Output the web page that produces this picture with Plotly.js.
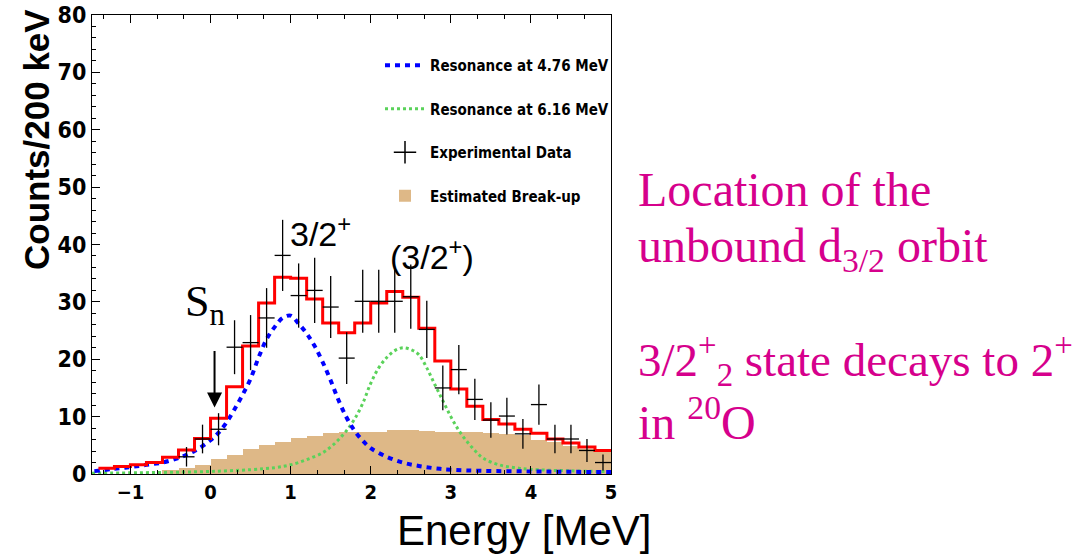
<!DOCTYPE html>
<html>
<head>
<meta charset="utf-8">
<script src="https://cdn.plot.ly/plotly-3.0.1.min.js"></script>
<style>
html,body{margin:0;padding:0;background:#fff;}
#chart{width:1077px;height:556px;}
</style>
</head>
<body>
<div id="chart"></div>
<script>
// ---- Data ----
// Fit sum histogram (red), 200 keV bins: left edges and contents
const fitBinStart = [-1.4,-1.2,-1.0,-0.8,-0.6,-0.4,-0.2,0.0,0.2,0.4,0.6,0.8,1.0,1.2,1.4,1.6,
                     1.8,2.0,2.2,2.4,2.6,2.8,3.0,3.2,3.4,3.6,3.8,4.0,4.2,4.4,4.6,4.8];
const fitBinEnd = 5.0;
const fitCounts = [1.0,1.3,1.6,2.0,2.9,4.2,6.2,9.7,15.2,22.3,29.8,34.3,34.1,30.5,26.3,24.6,
                   26.3,29.8,31.8,30.8,25.4,19.7,14.8,11.8,9.5,8.7,7.8,7.1,6.1,5.4,4.7,4.1];

// Estimated break-up (tan filled histogram): bin centres and contents
const breakupE = [-0.5,-0.3,-0.1,0.1,0.3,0.5,0.7,0.9,1.1,1.3,1.5,1.7,1.9,2.1,2.3,2.5,2.7,2.9,
                  3.1,3.3,3.5,3.7,3.9,4.1,4.3,4.5,4.7,4.9];
const breakupCounts = [0.7,1.0,1.6,2.6,3.3,4.3,5.1,5.6,6.3,6.7,7.1,7.3,7.4,7.4,7.6,7.6,7.5,7.4,
                       7.4,7.4,7.2,6.9,6.8,6.0,5.5,4.9,4.3,3.8];

// Resonance at 4.76 MeV (blue dashed)
const res1E = [-1.45,-1.2,-1.0,-0.8,-0.6,-0.4,-0.2,0.0,0.1,0.2,0.3,0.4,0.5,0.6,0.7,0.8,0.9,1.0,
               1.1,1.2,1.3,1.4,1.5,1.6,1.7,1.8,1.9,2.0,2.2,2.4,2.6,2.8,3.0,3.4,4.0,4.5,5.0];
const res1Counts = [0.5,0.9,1.2,1.6,2.0,2.8,4.0,5.9,7.2,9.0,11.3,13.8,16.6,20.3,23.5,25.6,27.2,27.6,
                    26.2,24.5,22.3,19.5,16.3,12.8,9.8,7.5,5.8,4.5,3.0,2.0,1.4,1.0,0.75,0.55,0.45,0.38,0.33];

// Resonance at 6.16 MeV (green dotted)
const res2E = [-1.48,-1.0,-0.5,0.0,0.5,0.8,1.0,1.2,1.4,1.5,1.6,1.7,1.8,1.9,2.0,2.1,2.2,2.3,2.4,
               2.5,2.6,2.7,2.8,2.9,3.0,3.1,3.2,3.3,3.4,3.6,3.8,4.0,4.5,5.0];
const res2Counts = [0.15,0.2,0.3,0.45,0.75,1.1,1.6,2.5,3.7,4.7,6.0,7.6,9.6,12.3,15.8,18.5,20.3,21.5,22.0,
                    21.7,20.8,18.5,15.6,12.8,10.0,7.6,5.7,4.1,2.8,1.6,1.1,0.8,0.55,0.4];

// Experimental data (crosses)
const dataE = [-0.3,-0.1,0.1,0.3,0.5,0.7,0.9,1.1,1.3,1.5,1.7,1.9,2.1,2.3,2.5,2.7,2.9,3.1,3.3,3.5,
               3.7,3.9,4.1,4.3,4.5,4.7,4.9];
const dataCounts = [3.0,6.1,7.8,22.1,22.9,27.2,38.1,31.1,32.0,29.1,20.2,30.1,30.1,30.1,30.9,25.2,15.0,
                    18.2,13.0,9.4,10.1,7.0,12.1,6.1,6.1,4.1,2.0];
const dataErr = [1.7,2.5,2.8,4.7,4.8,5.2,6.2,5.6,5.7,5.4,4.5,5.5,5.5,5.5,5.6,5.0,3.9,4.3,3.6,3.1,
                 3.2,2.6,3.5,2.5,2.5,2.0,1.4];
const binHalfWidth = 0.1;

const xTickVals = [-1,0,1,2,3,4,5];
const yTickVals = [0,10,20,30,40,50,60,70,80];

// ---- Traces ----
const narrow = "Liberation Sans Narrow, DejaVu Sans Condensed, Arial Narrow, sans-serif";
const magenta = "#d6008c";

const traces = [
  {
    type: "bar", name: "Estimated Break-up",
    x: breakupE, y: breakupCounts, width: 0.2,
    marker: {color: "#deb887", line: {width: 0}},
    legendgroup: "d", legendrank: 4, hoverinfo: "skip"
  },
  {
    type: "scatter", mode: "lines", name: "Resonance at 6.16 MeV",
    x: res2E, y: res2Counts, line: {color: "#5ad25a", width: 3, dash: "dot", shape: "spline"},
    legendgroup: "b", legendrank: 2
  },
  {
    type: "scatter", mode: "lines", name: "Resonance at 4.76 MeV",
    x: res1E, y: res1Counts, line: {color: "#0000ff", width: 4, dash: "5px,5px", shape: "spline"},
    legendgroup: "a", legendrank: 1
  },
  {
    type: "scatter", mode: "lines", name: "Fit",
    x: fitBinStart.concat([fitBinEnd]), y: fitCounts.concat([fitCounts[fitCounts.length-1]]),
    line: {color: "#ff0000", width: 3, shape: "hv"}, showlegend: false
  },
  {
    type: "scatter", mode: "markers", name: "Experimental Data",
    x: dataE, y: dataCounts,
    marker: {size: 1, color: "black"},
    error_y: {type: "data", array: dataErr, visible: true, color: "black", thickness: 1.3, width: 0},
    error_x: {type: "constant", value: binHalfWidth, visible: true, color: "black", thickness: 1.3, width: 0},
    showlegend: false
  },
  {
    type: "scatter", mode: "markers", name: "Experimental Data",
    x: [null], y: [null],
    marker: {symbol: "cross-thin-open", size: 16, color: "black", line: {color: "black", width: 1.5}},
    legendgroup: "c", legendrank: 3
  }
];

// pixel helpers for paper coordinates (plot area: x 92..611, y 15..474)
const PL = 92, PR = 611, PT = 15, PB = 474;
const px = v => (v - PL) / (PR - PL);
const py = v => (PB - v) / (PB - PT);

const serif = "Liberation Serif, Times New Roman, serif";
function rightText(text, yPix, size) {
  return {xref: "paper", yref: "paper", x: px(636), y: py(yPix), xanchor: "left", yanchor: "middle",
          text: text, showarrow: false, font: {family: serif, size: size, color: magenta}};
}

const layout = {
  width: 1077, height: 556,
  margin: {l: PL, r: 1077 - PR, t: PT, b: 556 - PB, pad: 0},
  paper_bgcolor: "white", plot_bgcolor: "white",
  showlegend: true,
  bargap: 0,
  xaxis: {
    range: [-1.48, 5.0], showgrid: false, zeroline: false,
    tickvals: xTickVals, ticks: "inside", ticklen: 8, tickwidth: 1, tickcolor: "black",
    minor: {dtick: 1/3, tick0: 0, ticks: "inside", ticklen: 4, tickcolor: "black", showgrid: false},
    showline: true, linecolor: "black", linewidth: 1, mirror: "ticks",
    tickfont: {family: narrow, size: 20, color: "black", weight: "bold"}
  },
  yaxis: {
    range: [0, 80], showgrid: false, zeroline: false,
    tickvals: yTickVals, ticks: "inside", ticklen: 8, tickwidth: 1, tickcolor: "black",
    minor: {dtick: 2, ticks: "inside", ticklen: 4, tickcolor: "black", showgrid: false},
    showline: true, linecolor: "black", linewidth: 1, mirror: true,
    tickfont: {family: narrow, size: 23, color: "black", weight: "bold"}
  },
  legend: {
    x: px(380), y: py(49), xanchor: "left", yanchor: "top",
    bgcolor: "rgba(0,0,0,0)", borderwidth: 0,
    font: {family: narrow, size: 15, color: "black", weight: "bold"},
    traceorder: "grouped", tracegroupgap: 21, itemwidth: 40
  },
  annotations: [
    // axis titles
    {xref: "paper", yref: "paper", x: px(36), y: py(140), xanchor: "center", yanchor: "middle",
     text: "Counts/200 keV", textangle: -90, showarrow: false,
     font: {family: "Liberation Sans, Arial, sans-serif", size: 35, color: "black", weight: "bold"}},
    {xref: "paper", yref: "paper", x: px(524), y: py(530), xanchor: "center", yanchor: "middle",
     text: "Energy [MeV]", showarrow: false,
     font: {family: "Liberation Sans, Arial, sans-serif", size: 42, color: "black"}},
    // peak labels
    {xref: "x", yref: "y", x: 1.375, y: 42.3, xanchor: "center", yanchor: "middle",
     text: "3/2<sup>+</sup>", showarrow: false,
     font: {family: "Liberation Sans, Arial, sans-serif", size: 34, color: "black"}},
    {xref: "x", yref: "y", x: 2.76, y: 38.3, xanchor: "center", yanchor: "middle",
     text: "(3/2<sup>+</sup>)", showarrow: false,
     font: {family: "Liberation Sans, Arial, sans-serif", size: 34, color: "black"}},
    {xref: "x", yref: "y", x: -0.07, y: 29.5, xanchor: "center", yanchor: "middle",
     text: "S<sub>n</sub>", showarrow: false,
     font: {family: serif, size: 44, color: "black"}},
    // S_n arrow
    {xref: "x", yref: "y", x: 0.05, y: 11.6, ax: 0, ay: -58, text: "", showarrow: true,
     arrowhead: 2, arrowsize: 1.5, arrowwidth: 2, arrowcolor: "black", standoff: 0},
    // right-hand text
    rightText("Location of the", 189, 48),
    rightText("unbound d<sub>3/2</sub> orbit", 249, 48),
    rightText("3/2<sup>+</sup><sub>2</sub> state decays to 2<sup>+</sup>", 360, 47),
    rightText("in <sup>20</sup>O", 419, 48)
  ]
};

Plotly.newPlot("chart", traces, layout, {displayModeBar: false, staticPlot: true});
</script>
</body>
</html>
